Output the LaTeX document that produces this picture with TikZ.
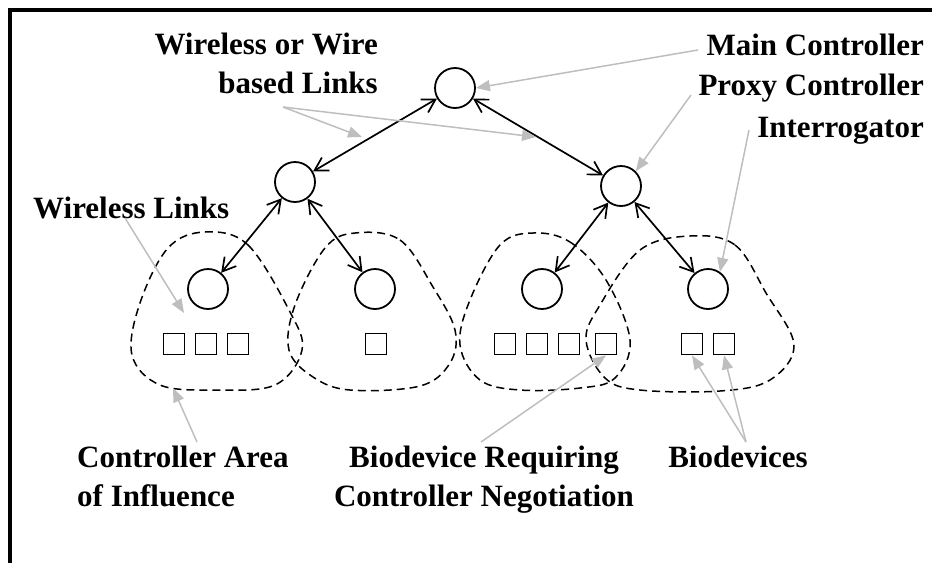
\documentclass[tikz,border=0pt]{standalone}
\usepackage{fontspec}
\setmainfont{Liberation Serif}
\usetikzlibrary{arrows.meta}
\definecolor{lg}{RGB}{190,190,190}
\begin{document}
\begin{tikzpicture}[x=1pt,y=-1pt,
  ctrl/.style={circle,draw,line width=1.8pt,minimum size=40pt,inner sep=0pt},
  bio/.style={rectangle,draw,line width=1.8pt,minimum size=21pt,inner sep=0pt},
  link/.style={line width=1.7pt,{Straight Barb[length=13pt,width=15pt]}-{Straight Barb[length=13pt,width=15pt]}},
  pointer/.style={draw=lg,line width=1.5pt,-{Triangle[length=14pt,width=11pt,fill=lg]}},
  area/.style={draw,line width=1.5pt,dash pattern=on 8pt off 5pt},
  lbl/.style={font=\bfseries\fontsize{31}{39}\selectfont,inner sep=0pt}
]
\useasboundingbox (0,0) rectangle (932,563);
% frame
\draw[line width=3.5pt] (932,10) -- (10,10) -- (10,563);

% areas of influence
\draw[area] plot[smooth cycle,tension=0.6] coordinates {(205,232) (248,245) (290,312) (302,350) (275,385) (215,390) (160,385) (132,355) (140,303) (168,248)};
\draw[area] plot[smooth cycle,tension=0.6] coordinates {(355,233) (400,240) (433,287) (455,330) (450,363) (420,386) (350,390) (313,377) (289,350) (295,305) (325,248)};
\draw[area] plot[smooth cycle,tension=0.6] coordinates {(533,233) (570,242) (606,280) (630,340) (615,378) (580,388) (520,390) (480,380) (460,345) (470,300) (500,245)};
\draw[area] plot[smooth cycle,tension=0.6] coordinates {(690,236) (735,245) (766,293) (794,345) (770,380) (720,391) (640,390) (605,378) (586,340) (600,305) (640,250)};

% controllers
\node[ctrl] (mc) at (455,88) {};
\node[ctrl] (pl) at (295,182) {};
\node[ctrl] (pr) at (621,186) {};
\node[ctrl] (i1) at (208,289) {};
\node[ctrl] (i2) at (375,289) {};
\node[ctrl] (i3) at (542,289) {};
\node[ctrl] (i4) at (708,289) {};

% biodevices
\node[bio] (s1) at (174,344) {};
\node[bio] (s2) at (206,344) {};
\node[bio] (s3) at (238,344) {};
\node[bio] (s4) at (376,344) {};
\node[bio] (s5) at (505,344) {};
\node[bio] (s6) at (537,344) {};
\node[bio] (s7) at (569,344) {};
\node[bio] (s8) at (606,344) {};
\node[bio] (s9) at (692,344) {};
\node[bio] (s10) at (724,344) {};

% links
\draw[link] (mc) -- (pl);
\draw[link] (mc) -- (pr);
\draw[link] (pl) -- (i1);
\draw[link] (pl) -- (i2);
\draw[link] (pr) -- (i3);
\draw[link] (pr) -- (i4);

% labels
\node[lbl,align=right,anchor=east] (lw) at (378,63) {Wireless or Wire\\based Links};
\node[lbl,anchor=east] (lmc) at (924,45) {Main Controller};
\node[lbl,anchor=east] (lpc) at (924,88) {Proxy Controller};
\node[lbl,anchor=east] (lint) at (924,131) {Interrogator};
\node[lbl,anchor=west] (lwl) at (33,208) {Wireless Links};
\node[lbl,align=left,anchor=north west] (lca) at (77,446) {Controller Area\\of Influence};
\node[lbl,align=center,anchor=north] (lbr) at (484,446) {Biodevice Requiring\\Controller Negotiation};
\node[lbl,anchor=north] (lbd) at (738,446) {Biodevices};

% pointer coordinates
\coordinate (pw) at (283,107);
\coordinate (pwa) at (362,137);
\coordinate (pwb) at (536,137);
\coordinate (pm) at (698,50);
\coordinate (pp) at (691,95);
\coordinate (pi) at (749,130);
\coordinate (pl1) at (125,218);
\coordinate (pl1e) at (184,313);
\coordinate (pa) at (197,442);
\coordinate (pae) at (173,388);
\coordinate (pb) at (481,442);
\coordinate (pd) at (746,442);

% pointers
\draw[pointer] (pw) -- (pwa);
\draw[pointer] (pw) -- (pwb);
\draw[pointer] (pm) -- (mc.east);
\draw[pointer] (pp) -- (pr.45);
\draw[pointer] (pi) -- (i4.55);
\draw[pointer] (pl1) -- (pl1e);
\draw[pointer] (pa) -- (pae);
\draw[pointer] (pb) -- (s8.south);
\draw[pointer] (pd) -- (s9.south);
\draw[pointer] (pd) -- (s10.south);
\end{tikzpicture}
\end{document}
